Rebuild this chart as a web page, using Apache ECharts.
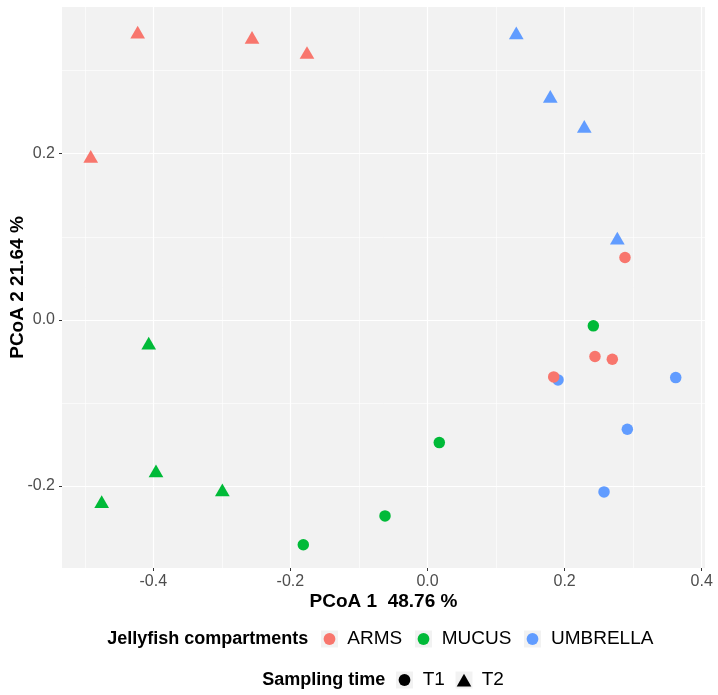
<!DOCTYPE html>
<html><head><meta charset="utf-8">
<script src="https://cdn.jsdelivr.net/npm/echarts@6/dist/echarts.min.js"></script>
<style>html,body{margin:0;padding:0;background:#fff}#c{width:718px;height:695px}</style>
</head><body><div id="c"></div><script>
// ---- data ----
const compartments = ['ARMS', 'MUCUS', 'UMBRELLA'];
const samplingTimes = ['T1', 'T2'];
const compartmentColors = ['#F8766D', '#00BA38', '#619CFF'];
const xTicks = [-0.4, -0.2, 0.0, 0.2, 0.4];
const xMinorTicks = [-0.5, -0.3, -0.1, 0.1, 0.3];
const yTicks = [-0.2, 0.0, 0.2];
const yMinorTicks = [-0.1, 0.1, 0.3];
const xTitle = 'PCoA 1  48.76 %';
const yTitle = 'PCoA 2 21.64 %';
const compartmentTitle = 'Jellyfish compartments';
const timeTitle = 'Sampling time';
// PCoA coordinates [PCoA1, PCoA2]
const armsT1 = [[0.2881, 0.0751], [0.2443, -0.0442], [0.2696, -0.0474], [0.1841, -0.0687]];
const armsT2 = [[-0.4228, 0.3440], [-0.2560, 0.3375], [-0.4913, 0.1942], [-0.1758, 0.3194]];
const mucusT1 = [[0.2419, -0.0072], [0.0172, -0.1478], [-0.0620, -0.2361], [-0.1812, -0.2708]];
const mucusT2 = [[-0.4067, -0.0306], [-0.3961, -0.1844], [-0.4753, -0.2214], [-0.2993, -0.2073]];
const umbrellaT1 = [[0.1904, -0.0723], [0.3621, -0.0695], [0.2915, -0.1317], [0.2575, -0.2072]];
const umbrellaT2 = [[0.1295, 0.3429], [0.1791, 0.2665], [0.2287, 0.2304], [0.2769, 0.0959]];

const xMin = -0.5332, xMax = 0.4048, yMin = -0.2988, yMax = 0.3767;
const FONT = '"Liberation Sans", Arial, Helvetica, sans-serif';

const groups = [
  { comp: 2, time: 0, data: umbrellaT1 },
  { comp: 2, time: 1, data: umbrellaT2 },
  { comp: 1, time: 0, data: mucusT1 },
  { comp: 1, time: 1, data: mucusT2 },
  { comp: 0, time: 0, data: armsT1 },
  { comp: 0, time: 1, data: armsT2 }
];

const series = groups.map(g => ({
  type: 'scatter',
  name: compartments[g.comp] + ' ' + samplingTimes[g.time],
  data: g.data,
  xAxisIndex: 0, yAxisIndex: 0,
  symbol: g.time === 0 ? 'circle' : 'triangle',
  symbolSize: g.time === 0 ? 11.5 : [14.7, 12.7],
  symbolOffset: g.time === 0 ? [0, 0] : [0, -2.1],
  itemStyle: { color: compartmentColors[g.comp], opacity: 1 },
  emphasis: { disabled: true },
  silent: true
}));

function mainAxis(ticks, min, max, isX) {
  return {
    type: 'value', min: min, max: max, gridIndex: 0,
    position: isX ? 'bottom' : 'left', offset: 0,
    axisLine: { show: false, onZero: false },
    axisTick: { show: true, length: 3, customValues: ticks, lineStyle: { color: '#333333', width: 1 } },
    axisLabel: {
      customValues: ticks, color: '#4D4D4D', fontSize: 16, fontFamily: FONT,
      margin: isX ? 6 : 7, formatter: v => v.toFixed(1)
    },
    splitLine: { show: true, lineStyle: { color: '#FFFFFF', width: 1.2 } },
    name: isX ? xTitle : yTitle,
    nameLocation: 'middle',
    nameMoveOverlap: false,
    nameGap: isX ? 24 : 35,
    nameTextStyle: { fontSize: 19, fontWeight: 'bold', color: '#000', fontFamily: FONT }
  };
}
function minorAxis(ticks, min, max, isX) {
  return {
    type: 'value', min: min, max: max, gridIndex: 0,
    position: isX ? 'bottom' : 'left', offset: 0,
    axisLine: { show: false, onZero: false },
    axisTick: { show: false, customValues: ticks },
    axisLabel: { show: false, customValues: ticks },
    splitLine: { show: true, lineStyle: { color: '#FFFFFF', width: 0.6 } }
  };
}

// legend (graphic)
const graphic = [];
const row1Y = 639, row2Y = 680;
graphic.push({ type: 'text', x: 107.3, y: row1Y, style: { text: compartmentTitle, font: 'bold 18px ' + FONT, fill: '#000', textAlign: 'left', textVerticalAlign: 'middle' } });
const compKeyX = [321, 415, 524];
const compLabelX = [347.3, 441.7, 551];
compartments.forEach((c, i) => {
  graphic.push({ type: 'rect', shape: { x: compKeyX[i], y: row1Y - 8.5, width: 17, height: 17 }, style: { fill: '#F2F2F2' } });
  graphic.push({ type: 'circle', shape: { cx: compKeyX[i] + 8.5, cy: row1Y, r: 5.9 }, style: { fill: compartmentColors[i] } });
  graphic.push({ type: 'text', x: compLabelX[i], y: row1Y, style: { text: c, font: '19px ' + FONT, fill: '#000', textAlign: 'left', textVerticalAlign: 'middle' } });
});
graphic.push({ type: 'text', x: 262.3, y: row2Y, style: { text: timeTitle, font: 'bold 18px ' + FONT, fill: '#000', textAlign: 'left', textVerticalAlign: 'middle' } });
const timeKeyX = [396, 455.5];
const timeLabelX = [422.7, 481.7];
samplingTimes.forEach((t, i) => {
  const kx = timeKeyX[i];
  graphic.push({ type: 'rect', shape: { x: kx, y: row2Y - 8.5, width: 17, height: 17 }, style: { fill: '#F2F2F2' } });
  if (i === 0) {
    graphic.push({ type: 'circle', shape: { cx: kx + 8.5, cy: row2Y, r: 5.9 }, style: { fill: '#000' } });
  } else {
    graphic.push({ type: 'polygon', shape: { points: [[kx + 1.2, row2Y + 6.6], [kx + 15.8, row2Y + 6.6], [kx + 8.5, row2Y - 6.2]] }, style: { fill: '#000' } });
  }
  graphic.push({ type: 'text', x: timeLabelX[i], y: row2Y, style: { text: t, font: '19px ' + FONT, fill: '#000', textAlign: 'left', textVerticalAlign: 'middle' } });
});

const chart = echarts.init(document.getElementById('c'), null, { renderer: 'canvas' });
chart.setOption({
  animation: false,
  backgroundColor: '#FFFFFF',
  textStyle: { fontFamily: FONT },
  grid: { left: 62, right: 13, top: 7, bottom: 127, show: true, backgroundColor: '#F2F2F2', borderWidth: 0, containLabel: false, outerBoundsMode: 'none' },
  xAxis: [minorAxis(xMinorTicks, xMin, xMax, true), mainAxis(xTicks, xMin, xMax, true)],
  yAxis: [minorAxis(yMinorTicks, yMin, yMax, false), mainAxis(yTicks, yMin, yMax, false)],
  series: series,
  graphic: graphic
});
</script></body></html>
